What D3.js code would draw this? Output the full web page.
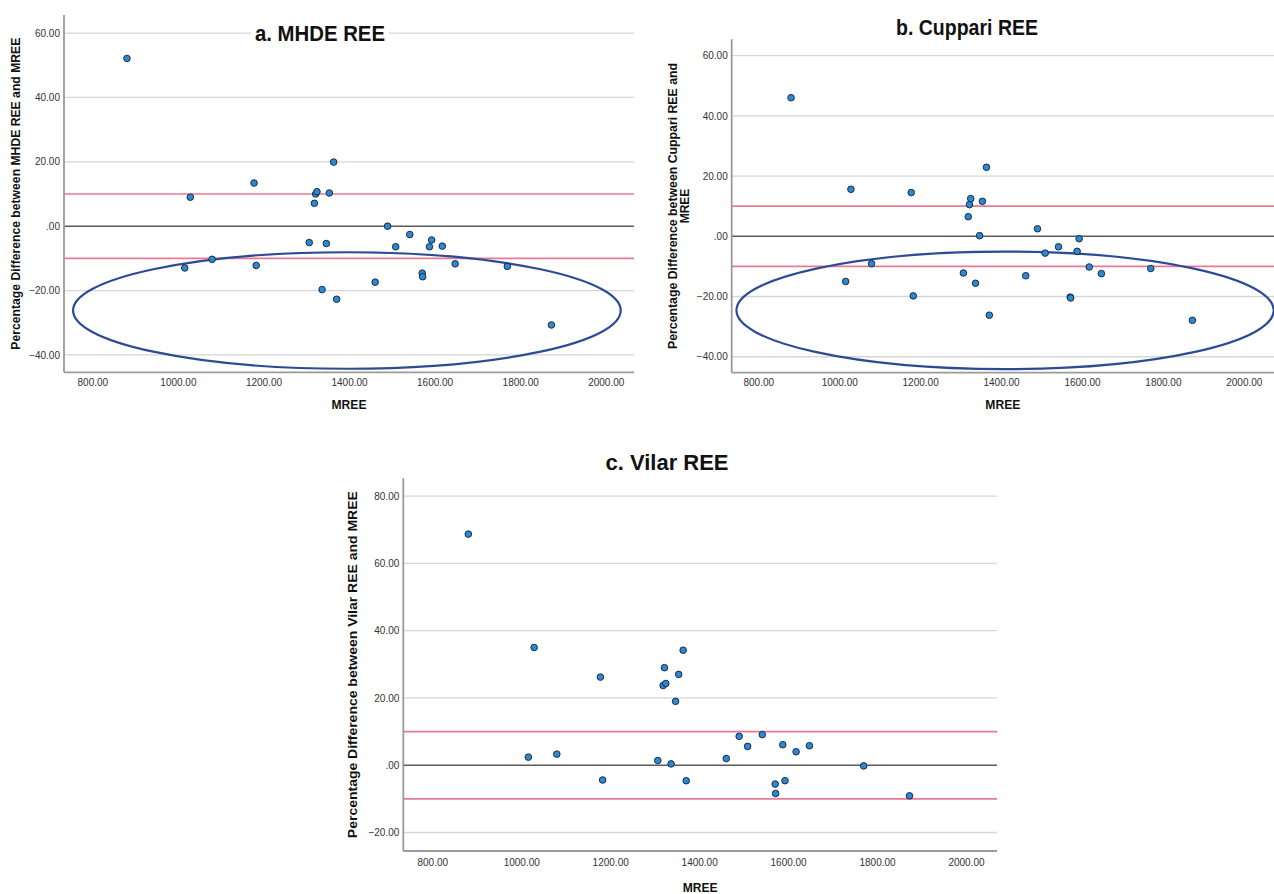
<!DOCTYPE html>
<html>
<head>
<meta charset="utf-8">
<script src="https://cdn.jsdelivr.net/npm/d3@7"></script>
<style>
  html, body { margin: 0; padding: 0; background: #fff; }
  svg { display: block; font-family: "Liberation Sans", Arial, sans-serif; }
</style>
</head>
<body>
<svg id="chart" width="1274" height="894"></svg>
<script>
// ---------------- DATA ----------------
const mree = [881, 1029, 1016, 1080, 1178, 1183, 1307, 1319, 1322, 1325, 1337, 1347, 1354, 1364, 1371,
  1461, 1490, 1509, 1542, 1571, 1572, 1588, 1593, 1618, 1648, 1770, 1873];
const mhdeDiff = [52.1, 9.0, -13.0, -10.3, 13.4, -12.2, -5.1, 7.1, 10.0, 10.7, -19.7, -5.4, 10.3, 19.9, -22.7,
  -17.4, 0.0, -6.4, -2.6, -14.6, -15.7, -6.4, -4.3, -6.2, -11.7, -12.5, -30.7];
const cuppariDiff = [46.0, 15.6, -15.0, -9.1, 14.5, -19.8, -12.2, 6.5, 10.5, 12.5, -15.6, 0.2, 11.6, 22.9, -26.2,
  -13.1, 2.5, -5.6, -3.5, -20.2, -20.5, -5.0, -0.8, -10.2, -12.4, -10.7, -27.9];
const vilarDiff = [68.7, 35.0, 2.4, 3.3, 26.2, -4.4, 1.4, 23.7, 29.0, 24.3, 0.4, 19.0, 27.0, 34.2, -4.6,
  2.0, 8.6, 5.6, 9.1, -5.6, -8.4, 6.1, -4.6, 4.0, 5.8, -0.2, -9.1];
const xTicks = [800, 1000, 1200, 1400, 1600, 1800, 2000];
const yTicksAB = [-40, -20, 0, 20, 40, 60];
const yTicksC = [-20, 0, 20, 40, 60, 80];
const limitLines = [-10, 10];
const referenceLine = 0;
// highlight ovals: [centre MREE, centre diff, radius MREE, radius diff]
const ovalA = [1395, -26.2, 640, 18.1];
const ovalB = [1410, -24.6, 664, 19.5];
const titles = ["a. MHDE REE", "b. Cuppari REE", "c. Vilar REE"];
const yLabels = [
  ["Percentage Difference between MHDE REE and MREE"],
  ["Percentage Difference between Cuppari REE and", "MREE"],
  ["Percentage Difference between Vilar REE and MREE"]
];
const xLabel = "MREE";

// ---------------- LAYOUT ----------------
const panels = [
  { values: mhdeDiff, yTicks: yTicksAB, oval: ovalA, title: titles[0], ylab: yLabels[0],
    left: 64, right: 634, top: 15, bottom: 372.3, xDom: [733.8, 2066], yDom: [-45.4, 65.6],
    titleX: 320, titleY: 41, titleW: 130, titleBg: true,
    ylabX: 20, ylabW: [312], xlabY: 409, tickLabY: 383, ylabSize: 12 },
  { values: cuppariDiff, yTicks: yTicksAB, oval: ovalB, title: titles[1], ylab: yLabels[1],
    left: 731.7, right: 1274, top: 39.3, bottom: 372.7, xDom: [734.3, 2074.6], yDom: [-45.3, 65.4],
    titleX: 967, titleY: 35, titleW: 142, titleBg: false,
    ylabX: 677, ylabW: [286, null], xlabY: 409, tickLabY: 383, ylabSize: 12 },
  { values: vilarDiff, yTicks: yTicksC, oval: null, title: titles[2], ylab: yLabels[2],
    left: 403.3, right: 997, top: 478.3, bottom: 851, xDom: [734.8, 2069.7], yDom: [-25.5, 85.3],
    titleX: 667, titleY: 470, titleW: 123, titleBg: false,
    ylabX: 356.5, ylabW: [347], xlabY: 892, tickLabY: 863, ylabSize: 13 }
];

const svg = d3.select("#chart");

panels.forEach(p => {
  const x = d3.scaleLinear().domain(p.xDom).range([p.left, p.right]);
  const y = d3.scaleLinear().domain(p.yDom).range([p.bottom, p.top]);
  const g = svg.append("g");

  // gridlines
  g.selectAll(".grid").data(p.yTicks.filter(t => t !== referenceLine)).join("line")
    .attr("class", "grid")
    .attr("x1", p.left).attr("x2", p.right)
    .attr("y1", d => y(d)).attr("y2", d => y(d))
    .attr("stroke", "#d6d6d6").attr("stroke-width", 1.3);

  // limit lines (+/-10)
  g.selectAll(".lim").data(limitLines).join("line")
    .attr("class", "lim")
    .attr("x1", p.left).attr("x2", p.right)
    .attr("y1", d => y(d)).attr("y2", d => y(d))
    .attr("stroke", "#ea7a93").attr("stroke-width", 1.6);

  // reference line at 0
  g.append("line")
    .attr("x1", p.left).attr("x2", p.right)
    .attr("y1", y(referenceLine)).attr("y2", y(referenceLine))
    .attr("stroke", "#5a5a5a").attr("stroke-width", 1.5);

  // axes
  const xAxis = d3.axisBottom(x).tickValues(xTicks).tickSize(0).tickFormat(d3.format(".2f"));
  const ax = g.append("g").attr("transform", `translate(0,${p.bottom})`).call(xAxis);
  ax.select(".domain").attr("stroke", "#9a9a9a").attr("stroke-width", 1.8)
    .attr("d", `M${p.left},0H${p.right}`);
  ax.selectAll("text").attr("y", p.tickLabY - p.bottom).attr("dy", "0.32em")
    .attr("font-size", 10).attr("fill", "#333")
    .attr("font-family", "'Liberation Sans', Arial, sans-serif");

  const yFmt = d => d === 0 ? ".00" : d3.format(".2f")(d);
  const yAxis = d3.axisLeft(y).tickValues(p.yTicks).tickSize(0).tickPadding(4).tickFormat(yFmt);
  const ay = g.append("g").attr("transform", `translate(${p.left},0)`).call(yAxis);
  ay.select(".domain").attr("stroke", "#9a9a9a").attr("stroke-width", 1.8)
    .attr("d", `M0,${p.top}V${p.bottom}`);
  ay.selectAll("text").attr("font-size", 10).attr("fill", "#333")
    .attr("font-family", "'Liberation Sans', Arial, sans-serif");

  // oval highlight
  if (p.oval) {
    const [cx, cy, rx, ry] = p.oval;
    g.append("ellipse")
      .attr("cx", x(cx)).attr("cy", y(cy))
      .attr("rx", x(cx + rx) - x(cx)).attr("ry", y(cy - ry) - y(cy))
      .attr("fill", "none").attr("stroke", "#2d4b94").attr("stroke-width", 2.2);
  }

  // points
  g.selectAll(".pt").data(mree.map((m, i) => [m, p.values[i]])).join("circle")
    .attr("class", "pt")
    .attr("cx", d => x(d[0])).attr("cy", d => y(d[1])).attr("r", 3.3)
    .attr("fill", "#2b88d3").attr("stroke", "#1b2c46").attr("stroke-width", 1);

  // title
  if (p.titleBg) {
    g.append("rect")
      .attr("x", p.titleX - p.titleW / 2 - 4).attr("y", p.titleY - 18)
      .attr("width", p.titleW + 8).attr("height", 22).attr("fill", "#fff");
  }
  g.append("text")
    .attr("x", p.titleX).attr("y", p.titleY).attr("text-anchor", "middle")
    .attr("font-size", 22).attr("font-weight", "bold").attr("fill", "#111")
    .attr("textLength", p.titleW).attr("lengthAdjust", "spacingAndGlyphs")
    .text(p.title);

  // x label
  g.append("text").attr("x", (p.left + p.right) / 2).attr("y", p.xlabY)
    .attr("text-anchor", "middle").attr("font-size", 13).attr("font-weight", "bold")
    .attr("fill", "#111").attr("textLength", 35).attr("lengthAdjust", "spacingAndGlyphs")
    .text(xLabel);

  // y label
  const cyMid = (p.top + p.bottom) / 2;
  p.ylab.forEach((line, i) => {
    const tx = p.ylabX + i * 12;
    const el = g.append("text")
      .attr("transform", `translate(${tx},${cyMid}) rotate(-90)`)
      .attr("text-anchor", "middle").attr("font-size", p.ylabSize).attr("font-weight", "bold")
      .attr("fill", "#111").text(line);
    if (p.ylabW[i]) el.attr("textLength", p.ylabW[i]).attr("lengthAdjust", "spacingAndGlyphs");
  });
});
</script>
</body>
</html>
